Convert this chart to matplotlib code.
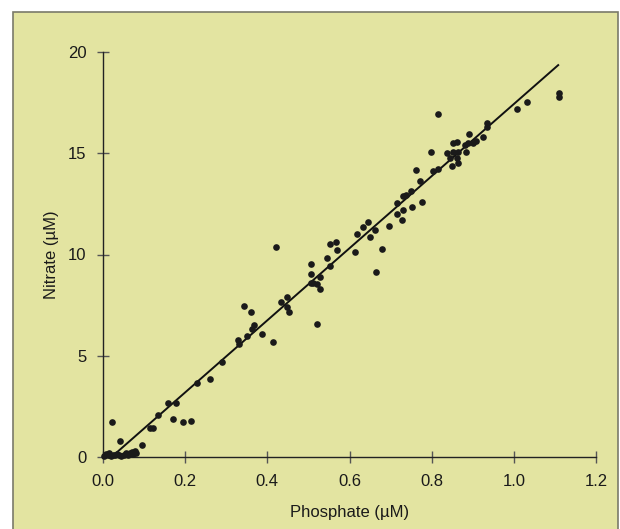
import matplotlib
matplotlib.use("Agg")
import matplotlib.pyplot as plt
from matplotlib.patches import Rectangle
import numpy as np

plt.rcParams['font.family'] = ['Liberation Sans', 'DejaVu Sans']

# phosphate (uM) vs nitrate (uM)
phosphate = [0.003, 0.008, 0.012, 0.015, 0.020, 0.025, 0.030, 0.035, 0.040, 0.045,
             0.050, 0.055, 0.060, 0.065, 0.070, 0.073, 0.078, 0.080, 0.021, 0.041,
             0.095, 0.115, 0.122, 0.135, 0.159, 0.177, 0.171, 0.194, 0.213, 0.228,
             0.260, 0.290, 0.328, 0.330, 0.342, 0.350, 0.360, 0.362, 0.368, 0.386,
             0.415, 0.420, 0.434, 0.447, 0.449, 0.453, 0.506, 0.506, 0.506, 0.512,
             0.520, 0.522, 0.527, 0.527, 0.545, 0.553, 0.553, 0.567, 0.569, 0.613,
             0.619, 0.634, 0.646, 0.650, 0.662, 0.665, 0.680, 0.695, 0.715, 0.715,
             0.727, 0.731, 0.731, 0.737, 0.749, 0.751, 0.761, 0.771, 0.777, 0.798,
             0.804, 0.815, 0.816, 0.837, 0.845, 0.850, 0.853, 0.853, 0.861, 0.861,
             0.863, 0.865, 0.880, 0.883, 0.888, 0.892, 0.900, 0.908, 0.926, 0.934,
             0.934, 1.007, 1.031, 1.109, 1.109]
nitrate = [0.05, 0.15, 0.10, 0.20, 0.05, 0.12, 0.08, 0.15, 0.10, 0.05,
           0.12, 0.18, 0.10, 0.20, 0.25, 0.15, 0.30, 0.20, 1.73, 0.79,
           0.58, 1.45, 1.45, 2.09, 2.68, 2.65, 1.88, 1.74, 1.79, 3.64,
           3.85, 4.71, 5.76, 5.58, 7.46, 5.99, 7.16, 6.33, 6.53, 6.09,
           5.68, 10.37, 7.64, 7.90, 7.39, 7.15, 9.53, 9.02, 8.58, 8.61,
           6.58, 8.54, 8.28, 8.90, 9.81, 10.52, 9.43, 10.63, 10.22, 10.14,
           11.00, 11.37, 11.60, 10.88, 11.21, 9.15, 10.26, 11.42, 12.00, 12.56,
           11.70, 12.90, 12.20, 12.94, 13.15, 12.33, 14.17, 13.65, 12.61, 15.06,
           14.12, 14.22, 16.92, 15.03, 14.75, 14.37, 15.52, 15.08, 15.57, 14.75,
           15.08, 14.53, 15.42, 15.08, 15.49, 15.93, 15.52, 15.62, 15.82, 16.47,
           16.30, 17.20, 17.55, 18.00, 17.79]

# regression line as drawn in the figure
slope = 17.8
intercept = -0.37
fit_range = (0.021, 1.108)

xticks = [0.0, 0.2, 0.4, 0.6, 0.8, 1.0, 1.2]
yticks = [0, 5, 10, 15, 20]

fig = plt.figure(figsize=(6.2, 5.29), dpi=100)
fig.patch.set_facecolor('white')
fig.patches.append(Rectangle((13 / 620, -0.05), 605 / 620, 1.05 - 12 / 529,
                             transform=fig.transFigure, facecolor='#E3E4A1',
                             edgecolor='#7a7a6a', linewidth=1.2, zorder=-10))

ax = fig.add_axes([103 / 620, 72 / 529, 493 / 620, 405 / 529])
ax.set_facecolor('none')
ax.set_zorder(5)

xfit = np.linspace(fit_range[0], fit_range[1], 50)
ax.plot(xfit, slope * xfit + intercept, color='#111111', lw=1.4, zorder=2)
ax.plot(phosphate, nitrate, 'o', color='#1a1a1a', ms=4.8, mec='none', zorder=3,
        clip_on=False)

ax.set_xlim(0, 1.2)
ax.set_ylim(0, 20)
ax.set_xticks(xticks)
ax.set_xticklabels([f"{t:.1f}" for t in xticks])
ax.set_yticks(yticks)
for s in ['top', 'right']:
    ax.spines[s].set_visible(False)
for s in ['left', 'bottom']:
    ax.spines[s].set_color('#222222')
    ax.spines[s].set_linewidth(1.0)
ax.tick_params(direction='inout', length=8, width=1, color='#555555',
               labelsize=12, labelcolor='#1a1a1a', pad=8)

ax.set_xlabel("Phosphate (µM)", fontsize=12, color='#1a1a1a', labelpad=12)
ax.set_ylabel("Nitrate (µM)", fontsize=12, color='#1a1a1a', labelpad=6)

fig.savefig("out.png", dpi=100, facecolor=fig.get_facecolor())
